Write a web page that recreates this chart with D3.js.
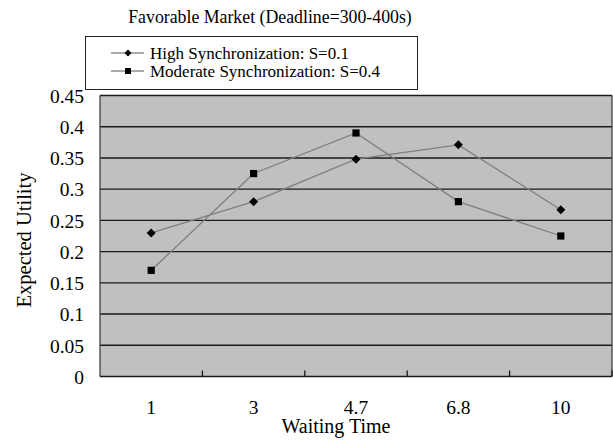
<!doctype html>
<html lang="en">
<head>
<meta charset="utf-8">
<title>Favorable Market</title>
<style type="text/css">
	body { margin: 0; background-color: white; }
	svg { display: block; }
	svg text { font-family: "Liberation Serif", "DejaVu Serif", serif; fill: #000; }
	.grid line { stroke: #1a1a1a; stroke-width: 1.4px; }
	.series { fill: none; stroke: #7f7f7f; stroke-width: 1.3px; }
	.tick-label { font-size: 19.5px; }
</style>
</head>
<body>
<script src="https://cdnjs.cloudflare.com/ajax/libs/d3/7.8.5/d3.min.js"></script>
<script type="text/javascript">
	var categories = ["1", "3", "4.7", "6.8", "10"];
	var highSync = [0.23, 0.28, 0.348, 0.371, 0.267];
	var moderateSync = [0.17, 0.325, 0.39, 0.28, 0.225];
	var yTicks = [0, 0.05, 0.1, 0.15, 0.2, 0.25, 0.3, 0.35, 0.4, 0.45];
	var seriesNames = ["High Synchronization: S=0.1", "Moderate Synchronization: S=0.4"];

	var fullwidth = 613, fullheight = 442;
	var margin = { top: 95.5, right: 1, bottom: 65.5, left: 100 };
	var width = fullwidth - margin.left - margin.right;
	var height = fullheight - margin.top - margin.bottom;

	var xScale = d3.scaleBand().domain(categories).range([0, width]);
	var yScale = d3.scaleLinear().domain([0, 0.45]).range([height, 0]);

	var svg = d3.select("body").append("svg")
		.attr("width", fullwidth)
		.attr("height", fullheight);

	// title
	svg.append("text")
		.attr("x", 270).attr("y", 23)
		.attr("text-anchor", "middle")
		.style("font-size", "17.8px")
		.text("Favorable Market (Deadline=300-400s)");

	var g = svg.append("g")
		.attr("transform", "translate(" + margin.left + "," + margin.top + ")");

	// plot area
	g.append("rect")
		.attr("width", width).attr("height", height)
		.attr("fill", "#c0c0c0");

	// gridlines
	g.append("g").attr("class", "grid")
		.selectAll("line").data(yTicks).enter().append("line")
		.attr("x1", 0).attr("x2", width)
		.attr("y1", function(d) { return yScale(d); })
		.attr("y2", function(d) { return yScale(d); });

	// left / right border
	g.selectAll(".border").data([0, width]).enter().append("line")
		.attr("x1", function(d) { return d; }).attr("x2", function(d) { return d; })
		.attr("y1", 0).attr("y2", height)
		.attr("stroke", "#404040").attr("stroke-width", 1.3);

	// y labels
	var yAxis = d3.axisLeft(yScale).tickValues(yTicks).tickSize(0).tickPadding(16)
		.tickFormat(function(d) { return String(+d.toFixed(2)); });
	g.append("g").call(yAxis)
		.attr("font-family", null).attr("font-size", null)
		.call(function(s) { s.select(".domain").remove(); })
		.selectAll("text")
		.attr("class", "tick-label")
		.attr("dy", "0.35em");

	// x ticks at category boundaries (inward)
	var bounds = categories.slice(1).map(function(c) { return xScale(c); }).concat([width]);
	g.selectAll(".xtick").data(bounds).enter().append("line")
		.attr("x1", function(d) { return d; }).attr("x2", function(d) { return d; })
		.attr("y1", height).attr("y2", height - 6)
		.attr("stroke", "#1a1a1a").attr("stroke-width", 1.3);

	// x labels
	var xAxis = d3.axisBottom(xScale).tickSize(0).tickPadding(24);
	g.append("g").attr("transform", "translate(0," + height + ")").call(xAxis)
		.attr("font-family", null).attr("font-size", null)
		.call(function(s) { s.select(".domain").remove(); })
		.selectAll("text")
		.attr("class", "tick-label");

	// axis titles
	svg.append("text")
		.attr("x", 336).attr("y", 433)
		.attr("text-anchor", "middle")
		.style("font-size", "20px")
		.text("Waiting Time");
	svg.append("text")
		.attr("transform", "translate(31,240) rotate(-90)")
		.attr("text-anchor", "middle")
		.style("font-size", "20.5px")
		.text("Expected Utility");

	var line = d3.line()
		.x(function(d, i) { return xScale(categories[i]) + xScale.bandwidth() / 2; })
		.y(function(d) { return yScale(d); });

	var diamond = function() { return "M0,-4.5L4.5,0L0,4.5L-4.5,0Z"; };
	var square = d3.symbol().type(d3.symbolSquare).size(52);

	[moderateSync, highSync].forEach(function(vals) {
		g.append("path").attr("class", "series").attr("d", line(vals));
	});
	g.selectAll(".hi").data(highSync).enter().append("path")
		.attr("d", diamond)
		.attr("transform", function(d, i) {
			return "translate(" + (xScale(categories[i]) + xScale.bandwidth() / 2) + "," + yScale(d) + ")";
		});
	g.selectAll(".mo").data(moderateSync).enter().append("path")
		.attr("d", square)
		.attr("transform", function(d, i) {
			return "translate(" + (xScale(categories[i]) + xScale.bandwidth() / 2) + "," + yScale(d) + ")";
		});

	// legend
	var legend = svg.append("g");
	legend.append("rect")
		.attr("x", 85.5).attr("y", 36.5).attr("width", 332).attr("height", 53)
		.attr("fill", "white").attr("stroke", "#222").attr("stroke-width", 1);
	var rows = legend.selectAll(".row").data(seriesNames).enter().append("g")
		.attr("transform", function(d, i) { return "translate(0," + (53 + i * 18) + ")"; });
	rows.append("line")
		.attr("x1", 111).attr("x2", 144).attr("y1", 0).attr("y2", 0)
		.attr("stroke", "#555").attr("stroke-width", 1.2);
	rows.append("path")
		.attr("transform", "translate(128,0)")
		.attr("d", function(d, i) { return i === 0 ? "M0,-3.5L3.5,0L0,3.5L-3.5,0Z" : d3.symbol().type(d3.symbolSquare).size(36)(); });
	rows.append("text")
		.attr("x", 150).attr("y", 0).attr("dy", "0.35em")
		.style("font-size", "17px")
		.text(function(d) { return d; });
</script>
</body>
</html>
